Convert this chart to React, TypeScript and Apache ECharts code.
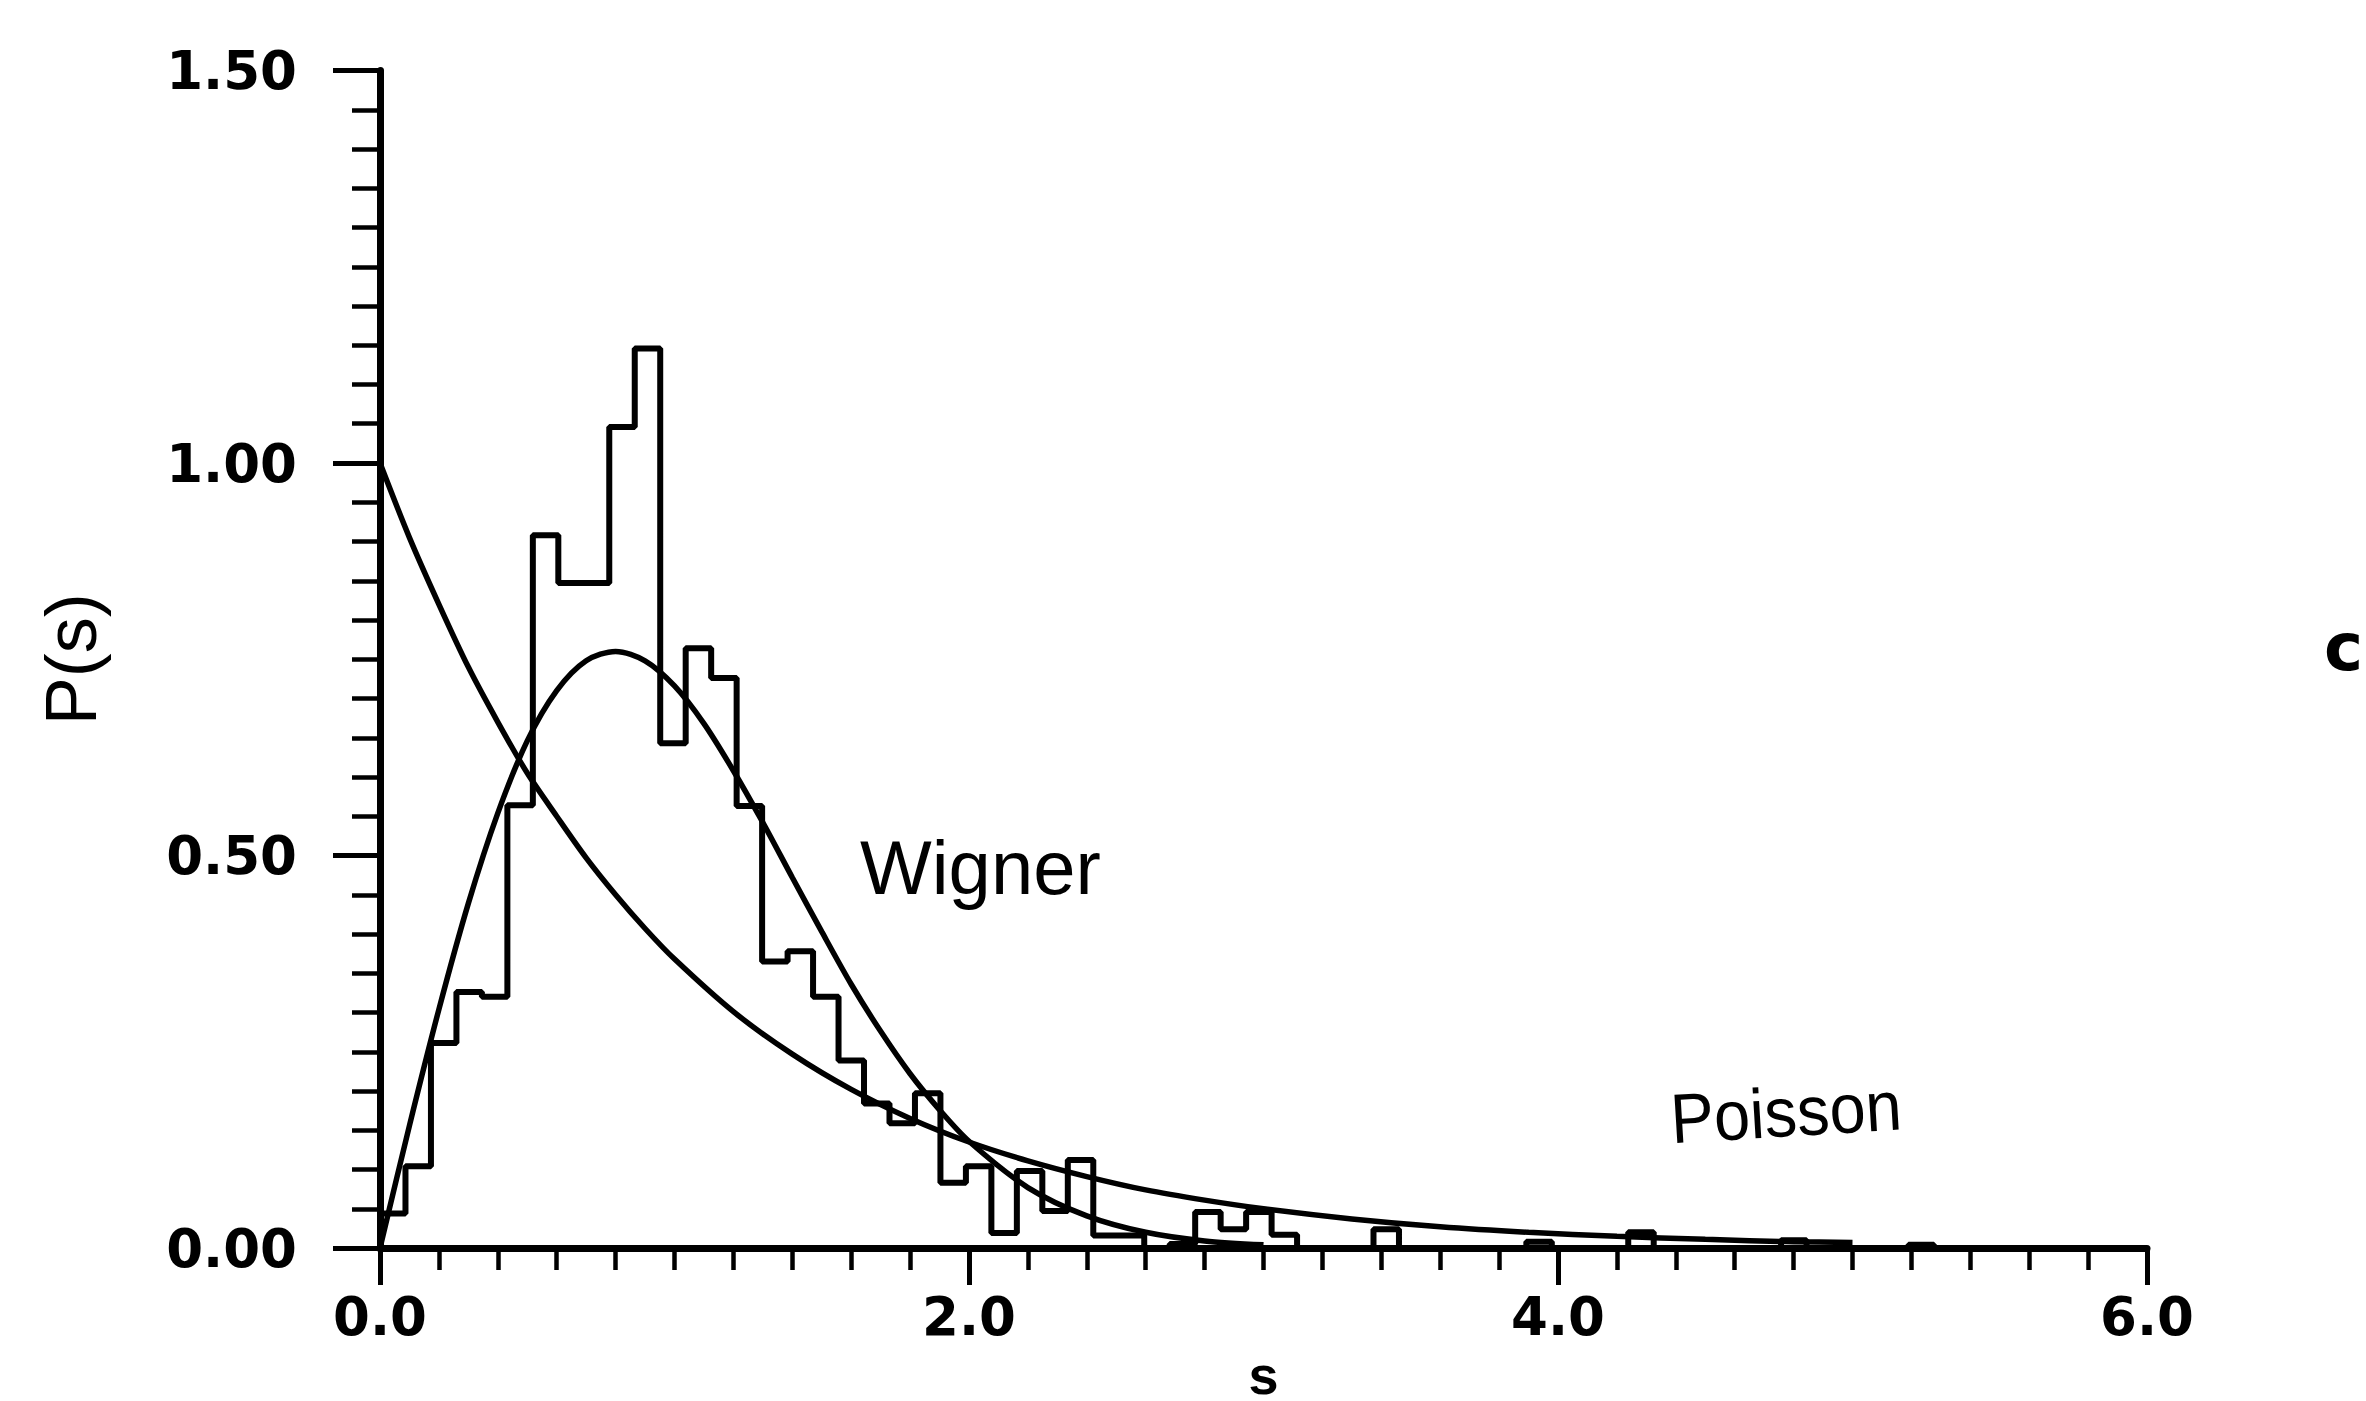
import React, { useEffect, useRef } from "react";
import * as echarts from "echarts";

// ---- data ----
const xTickLabels = ["0.0", "2.0", "4.0", "6.0"];
const yTickLabels = ["0.00", "0.50", "1.00", "1.50"];

// histogram of level spacings (bin width in s units)
const binWidth = 0.0865;
const histValues = [
  0.044, 0.104, 0.261, 0.326, 0.32, 0.564, 0.908, 0.847, 0.847, 1.046,
  1.146, 0.643, 0.764, 0.726, 0.563, 0.365, 0.378, 0.32, 0.239, 0.184,
  0.159, 0.197, 0.083, 0.104, 0.019, 0.098, 0.047, 0.112, 0.016, 0.016,
  0, 0.005, 0.046, 0.024, 0.046, 0.017, 0, 0, 0, 0.024,
  0, 0, 0, 0, 0, 0.008, 0, 0, 0, 0.02,
  0, 0, 0, 0, 0, 0.01, 0, 0, 0, 0,
  0.004,
];

// Poisson curve
const poissonS = [0, 0.1, 0.2, 0.3, 0.4, 0.5, 0.6, 0.7, 0.8, 0.9, 1.0, 1.2, 1.4, 1.6, 1.8, 2.0, 2.2, 2.4, 2.6, 2.8, 3.0, 3.3, 3.6, 3.9, 4.2, 4.5, 4.8, 5.0];
const poissonP = [1.0, 0.905, 0.82, 0.74, 0.67, 0.605, 0.55, 0.497, 0.45, 0.407, 0.368, 0.301, 0.247, 0.202, 0.165, 0.135, 0.111, 0.091, 0.074, 0.061, 0.05, 0.037, 0.027, 0.02, 0.015, 0.011, 0.008, 0.007];

// Wigner curve
const wignerS = [0, 0.1, 0.2, 0.3, 0.4, 0.5, 0.6, 0.7, 0.8, 0.9, 1.0, 1.1, 1.2, 1.3, 1.4, 1.5, 1.6, 1.7, 1.8, 1.9, 2.0, 2.2, 2.4, 2.6, 2.8, 3.0];
const wignerP = [0, 0.156, 0.304, 0.439, 0.554, 0.646, 0.71, 0.748, 0.76, 0.748, 0.716, 0.668, 0.608, 0.542, 0.472, 0.403, 0.336, 0.276, 0.222, 0.176, 0.136, 0.077, 0.041, 0.02, 0.009, 0.004];

export default function App() {
  const ref = useRef<HTMLDivElement>(null);

  useEffect(() => {
    if (!ref.current) return;
    const chart = echarts.init(ref.current, null, { renderer: "svg" });

    const histData: number[][] = [[0, 0]];
    histValues.forEach((v, k) => histData.push([k * binWidth, v]));
    histData.push([histValues.length * binWidth, 0]);

    const poissonData = poissonS.map((s, i) => [s, poissonP[i]]);
    const wignerData = wignerS.map((s, i) => [s, wignerP[i]]);

    const labelFont = {
      color: "#000",
      fontFamily: "DejaVu Sans",
      fontWeight: "bold" as const,
      fontSize: 53,
    };

    chart.setOption({
      animation: false,
      backgroundColor: "#fff",
      grid: {
        left: 380,
        right: 219,
        top: 70.5,
        bottom: 153,
        containLabel: false,
        outerBoundsMode: "none",
      },
      xAxis: {
        type: "value",
        min: 0,
        max: 6,
        interval: 2,
        axisLine: { show: true, lineStyle: { color: "#000", width: 7 } },
        axisTick: { show: true, length: 37, lineStyle: { color: "#000", width: 5 } },
        minorTick: { show: true, splitNumber: 10, length: 22, lineStyle: { color: "#000", width: 4.5 } },
        splitLine: { show: false },
        minorSplitLine: { show: false },
        axisLabel: {
          ...labelFont,
          margin: 42,
          showMinLabel: true,
          showMaxLabel: true,
          formatter: (v: number) => xTickLabels[Math.round(v / 2)] ?? "",
        },
        name: "s",
        nameLocation: "middle",
        nameGap: 119,
        nameTextStyle: {
          color: "#000",
          fontFamily: "Liberation Sans",
          fontWeight: "bold",
          fontSize: 54,
          verticalAlign: "middle",
          lineHeight: 34,
        },
      },
      yAxis: {
        type: "value",
        min: 0,
        max: 1.5,
        interval: 0.5,
        axisLine: { show: true, lineStyle: { color: "#000", width: 7 } },
        axisTick: { show: true, length: 47, lineStyle: { color: "#000", width: 5 } },
        minorTick: { show: true, splitNumber: 10, length: 28, lineStyle: { color: "#000", width: 4.5 } },
        splitLine: { show: false },
        minorSplitLine: { show: false },
        axisLabel: {
          ...labelFont,
          margin: 83,
          showMinLabel: true,
          showMaxLabel: true,
          formatter: (v: number) => yTickLabels[Math.round(v / 0.5)] ?? "",
        },
        name: "P(s)",
        nameLocation: "middle",
        nameRotate: 90,
        nameGap: 273,
        nameTextStyle: { color: "#000", fontFamily: "Liberation Sans", fontSize: 72 },
      },
      series: [
        {
          type: "line",
          data: histData,
          step: "end",
          showSymbol: false,
          symbol: "none",
          lineStyle: { color: "#000", width: 6 },
          z: 3,
        },
        {
          type: "line",
          data: wignerData,
          smooth: 0.3,
          showSymbol: false,
          symbol: "none",
          lineStyle: { color: "#000", width: 5.5 },
          z: 4,
        },
        {
          type: "line",
          data: poissonData,
          smooth: 0.3,
          showSymbol: false,
          symbol: "none",
          lineStyle: { color: "#000", width: 5.5 },
          z: 4,
        },
      ],
      graphic: [
        {
          type: "text",
          x: 860,
          y: 867,
          style: {
            text: "Wigner",
            fill: "#000",
            font: "76px 'Liberation Sans'",
            align: "left",
            verticalAlign: "middle",
          },
        },
        {
          type: "text",
          x: 1786,
          y: 1112,
          rotation: 0.06,
          scaleX: 0.93,
          style: {
            text: "Poisson",
            fill: "#000",
            font: "70px 'Liberation Sans'",
            align: "center",
            verticalAlign: "middle",
          },
        },
        {
          type: "text",
          x: 2324,
          y: 647,
          style: {
            text: "c",
            fill: "#000",
            font: "bold 66px 'DejaVu Sans'",
            align: "left",
            verticalAlign: "middle",
          },
        },
      ],
    });

    return () => chart.dispose();
  }, []);

  return (
    <div
      ref={ref}
      style={{ position: "absolute", left: 0, top: 0, width: 2366, height: 1401, background: "#fff" }}
    />
  );
}
